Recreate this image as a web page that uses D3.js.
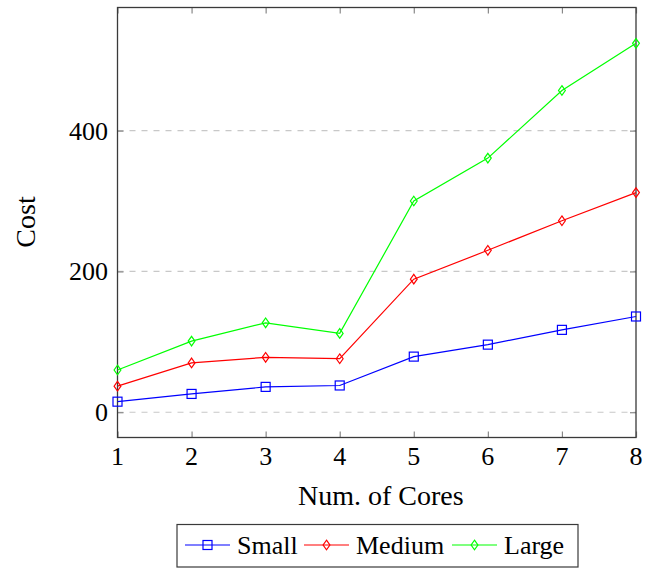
<!DOCTYPE html>
<html>
<head>
<meta charset="utf-8">
<script src="https://cdn.jsdelivr.net/npm/d3@7"></script>
<style>
html,body{margin:0;padding:0;background:#fff;}
svg{display:block;}
</style>
</head>
<body>
<svg id="chart" width="654" height="568" font-family="'Liberation Serif', 'Times New Roman', Times, 'DejaVu Serif', serif"></svg>
<script>
const cores = [1, 2, 3, 4, 5, 6, 7, 8];
const small = [15, 26, 36, 38, 79, 96, 117, 136];
const medium = [37, 70, 78, 76, 189, 230, 272, 312];
const large = [60, 101, 127, 112, 300, 361, 457, 524];
const yTicks = [0, 200, 400];
const seriesNames = ["Small", "Medium", "Large"];
const seriesColors = ["#0000ff", "#ff0000", "#00ff00"];
const seriesMarkers = ["square", "diamond", "diamond"];
const xLabel = "Num. of Cores";
const yLabel = "Cost";

const FONT = "'Liberation Serif', 'Times New Roman', Times, 'DejaVu Serif', serif";
const svg = d3.select("#chart");
const L = 117.5, R = 636, T = 7.5, B = 437.5;

const all = small.concat(medium, large);
const lo = d3.min(all), hi = d3.max(all), pad = (hi - lo) * 0.1;
const x = d3.scaleLinear().domain([1, 8]).range([L, R]);
const y = d3.scaleLinear().domain([lo - pad, hi + pad]).range([B, T]);

// grid
svg.append("g").selectAll("line").data(yTicks).join("line")
  .attr("x1", L).attr("x2", R)
  .attr("y1", d => y(d)).attr("y2", d => y(d))
  .attr("stroke", "#c8c8c8").attr("stroke-width", 1.2)
  .attr("stroke-dasharray", "6,6");

// axes (inner ticks)
const tickLen = 6;
const axL = d3.axisRight(y).tickValues(yTicks).tickSize(tickLen).tickFormat("");
const axR = d3.axisLeft(y).tickValues(yTicks).tickSize(tickLen).tickFormat("");
const axB = d3.axisTop(x).tickValues(cores).tickSize(tickLen).tickFormat("");
const axT = d3.axisBottom(x).tickValues(cores).tickSize(tickLen).tickFormat("");
function styleAxis(g){ g.select(".domain").remove(); g.selectAll(".tick line").attr("stroke","#888").attr("stroke-width",1.2); }
svg.append("g").attr("transform",`translate(${L},0)`).call(axL).call(styleAxis);
svg.append("g").attr("transform",`translate(${R},0)`).call(axR).call(styleAxis);
svg.append("g").attr("transform",`translate(0,${B})`).call(axB).call(styleAxis);
svg.append("g").attr("transform",`translate(0,${T})`).call(axT).call(styleAxis);

// tick labels
svg.append("g").selectAll("text").data(yTicks).join("text")
  .attr("x", 108).attr("y", d => y(d) + 9)
  .attr("text-anchor", "end").attr("font-size", 26).attr("font-family", FONT)
  .text(d => d);
svg.append("g").selectAll("text").data(cores).join("text")
  .attr("x", d => x(d)).attr("y", B + 27)
  .attr("text-anchor", "middle").attr("font-size", 26).attr("font-family", FONT)
  .text(d => d);

// frame
svg.append("rect").attr("x", L).attr("y", T).attr("width", R - L).attr("height", B - T)
  .attr("fill", "none").attr("stroke", "#3a3a3a").attr("stroke-width", 1.3);

// axis labels
svg.append("text").attr("x", (L + R) / 2 + 4).attr("y", 504.5).attr("text-anchor", "middle")
  .attr("font-size", 28).attr("font-family", FONT).text(xLabel);
svg.append("text").attr("transform", `translate(35,222) rotate(-90)`).attr("text-anchor", "middle")
  .attr("font-size", 28).attr("font-family", FONT).text(yLabel);

// markers
function marker(g, type, color){
  if (type === "square") {
    g.append("rect").attr("x", -4.5).attr("y", -4.5).attr("width", 9).attr("height", 9)
      .attr("fill", "none").attr("stroke", color).attr("stroke-width", 1.2);
  } else {
    g.append("path").attr("d", "M0,-4.8L3.4,0L0,4.8L-3.4,0Z")
      .attr("fill", "none").attr("stroke", color).attr("stroke-width", 1.2);
  }
}

const series = [small, medium, large];
const line = d3.line().x((d, i) => x(cores[i])).y(d => y(d));
series.forEach((vals, si) => {
  const g = svg.append("g");
  g.append("path").datum(vals).attr("d", line)
    .attr("fill", "none").attr("stroke", seriesColors[si]).attr("stroke-width", 1.2);
  vals.forEach((v, i) => {
    const mg = g.append("g").attr("transform", `translate(${x(cores[i])},${y(v)})`);
    marker(mg, seriesMarkers[si], seriesColors[si]);
  });
});

// legend
const lg = svg.append("g");
lg.append("rect").attr("x", 177).attr("y", 524.5).attr("width", 401).attr("height", 42.5)
  .attr("fill", "#fff").attr("stroke", "#3a3a3a").attr("stroke-width", 1.2);
const legX = [185, 304, 452];
seriesNames.forEach((name, i) => {
  const x0 = legX[i];
  lg.append("line").attr("x1", x0).attr("x2", x0 + 45).attr("y1", 545).attr("y2", 545)
    .attr("stroke", seriesColors[i]).attr("stroke-width", 1.2);
  const mg = lg.append("g").attr("transform", `translate(${x0 + 22.5},545)`);
  marker(mg, seriesMarkers[i], seriesColors[i]);
  lg.append("text").attr("x", x0 + 52).attr("y", 553.5).attr("font-size", 26).attr("font-family", FONT).text(name);
});
</script>
</body>
</html>
